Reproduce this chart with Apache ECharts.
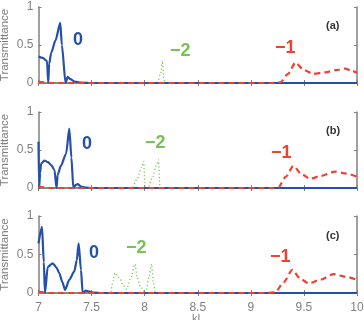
<!DOCTYPE html>
<html lang="en">
<head>
    <meta charset="UTF-8">
    <title>Transmittance</title>
    <style>html,body{margin:0;padding:0;background:#fff}</style>
</head>
<body>
<div id="chart-box" style="height:320px;width:364px"></div>
<script src="https://cdn.jsdelivr.net/npm/echarts@6/dist/echarts.min.js"></script>
<script>
// x axis ticks
var xTicks = [7, 7.5, 8, 8.5, 9, 9.5, 10];

// panel (a)
var kA0 = [7.0, 7.04, 7.08, 7.092, 7.10, 7.12, 7.16, 7.205, 7.22, 7.255, 7.275, 7.30, 7.34, 7.40, 7.5, 10];
var tA0 = [0.35, 0.33, 0.29, 0.0, 0.25, 0.40, 0.56, 0.79, 0.50, 0.0, 0.08, 0.05, 0.02, 0.005, 0, 0];
var kA1 = [7.0, 7.04, 7.1, 9.2, 9.28, 9.35, 9.42, 9.5, 9.59, 9.7, 9.8, 9.89, 9.95, 10];
var tA1 = [0.02, 0.01, 0, 0, 0.01, 0.12, 0.27, 0.17, 0.12, 0.14, 0.17, 0.19, 0.16, 0.135];
var kA2 = [7, 8.12, 8.15, 8.168, 8.18, 8.19, 10];
var tA2 = [0, 0, 0.12, 0.29, 0.05, 0, 0];

// panel (b)
var kB0 = [7.0, 7.006, 7.015, 7.025, 7.055, 7.09, 7.12, 7.15, 7.17, 7.18, 7.21, 7.26, 7.29, 7.31, 7.328, 7.35, 7.37, 7.40, 7.45, 7.5, 10];
var tB0 = [0.61, 0.0, 0.2, 0.32, 0.36, 0.34, 0.30, 0.24, 0.0, 0.17, 0.29, 0.45, 0.78, 0.4, 0.0, 0.04, 0.05, 0.02, 0.005, 0, 0];
var kB1 = [7.0, 7.05, 7.1, 9.2, 9.26, 9.33, 9.40, 9.48, 9.56, 9.66, 9.795, 9.9, 10];
var tB1 = [0.02, 0.01, 0, 0, 0.01, 0.15, 0.29, 0.18, 0.12, 0.16, 0.215, 0.19, 0.15];
var kB2 = [7, 7.88, 7.93, 7.97, 7.99, 8.005, 8.03, 8.07, 8.11, 8.13, 8.145, 10];
var tB2 = [0, 0, 0.12, 0.27, 0.35, 0.0, 0.0, 0.12, 0.30, 0.37, 0, 0];

// panel (c)
var kC0 = [7.0, 7.033, 7.05, 7.061, 7.087, 7.134, 7.17, 7.196, 7.225, 7.25, 7.29, 7.337, 7.36, 7.378, 7.40, 7.416, 7.447, 7.47, 7.52, 7.6, 10];
var tC0 = [0.645, 0.86, 0.4, 0.0, 0.34, 0.385, 0.33, 0.255, 0.14, 0.04, 0.17, 0.28, 0.42, 0.645, 0.3, 0.0, 0.03, 0.02, 0.005, 0, 0];
var kC1 = [7.0, 7.05, 7.1, 9.15, 9.23, 9.31, 9.39, 9.47, 9.545, 9.65, 9.78, 9.9, 10];
var tC1 = [0.02, 0.01, 0, 0, 0.01, 0.14, 0.30, 0.18, 0.125, 0.17, 0.245, 0.21, 0.17];
var kC2 = [7, 7.68, 7.70, 7.72, 7.76, 7.80, 7.83, 7.87, 7.909, 7.93, 7.96, 8.01, 8.04, 8.066, 8.08, 8.10, 10];
var tC2 = [0, 0, 0.15, 0.26, 0.2, 0.1, 0.05, 0.2, 0.375, 0.2, 0.08, 0.0, 0.2, 0.375, 0.15, 0, 0];

var panels = [
    {k: [kA0, kA1, kA2], t: [tA0, tA1, tA2], tag: '(a)'},
    {k: [kB0, kB1, kB2], t: [tB0, tB1, tB2], tag: '(b)'},
    {k: [kC0, kC1, kC2], t: [tC0, tC1, tC2], tag: '(c)'}
];

var BLUE = '#2550aa', RED = '#ee4130', GREEN = '#77c352', AXIS = '#808080', TXT = '#808080';
var tops = [7, 112, 216];
var heights = [76, 76, 77];

function zip(a, b) {
    return a.map(function (x, i) { return [x, b[i]]; });
}

var grid = [], xAxis = [], yAxis = [], series = [];
panels.forEach(function (p, i) {
    grid.push({left: 38.5, right: 7, top: tops[i], height: heights[i],
        containLabel: false, outerBoundsMode: 'none'});
    var last = i === panels.length - 1;
    xAxis.push({
        type: 'value', gridIndex: i, min: 7, max: 10, interval: 0.5,
        axisLine: {show: true, onZero: false, lineStyle: {color: AXIS, width: 1.5}},
        axisTick: {show: true, inside: true, length: 3, lineStyle: {color: AXIS}},
        splitLine: {show: false},
        axisLabel: {show: last, color: TXT, fontSize: 12, fontFamily: 'Liberation Sans', margin: 9},
        name: last ? 'kL' : '', nameLocation: 'middle', nameGap: 20, nameMoveOverlap: false,
        nameTextStyle: {color: TXT, fontSize: 11, fontFamily: 'Liberation Sans'}
    });
    xAxis.push({
        type: 'value', gridIndex: i, min: 7, max: 10, interval: 0.5, position: 'top',
        axisLine: {show: true, lineStyle: {color: AXIS, width: 1.5}},
        axisTick: {show: true, inside: true, length: 3, lineStyle: {color: AXIS}},
        splitLine: {show: false}, axisLabel: {show: false}
    });
    yAxis.push({
        type: 'value', gridIndex: i, min: 0, max: 1, interval: 0.5,
        axisLine: {show: true, onZero: false, lineStyle: {color: AXIS, width: 1.5}},
        axisTick: {show: true, inside: true, length: 3, lineStyle: {color: AXIS}},
        splitLine: {show: false},
        axisLabel: {color: TXT, fontSize: 12, fontFamily: 'Liberation Sans', margin: 5},
        name: 'Transmittance', nameLocation: 'middle', nameGap: 28, nameRotate: 90,
        nameMoveOverlap: false,
        nameTextStyle: {color: TXT, fontSize: 11.5, fontFamily: 'Liberation Sans'}
    });
    yAxis.push({
        type: 'value', gridIndex: i, min: 0, max: 1, interval: 0.5, position: 'right',
        axisLine: {show: true, lineStyle: {color: AXIS, width: 1.5}},
        axisTick: {show: true, inside: true, length: 3, lineStyle: {color: AXIS}},
        splitLine: {show: false}, axisLabel: {show: false}
    });
    var styles = [
        {color: BLUE, type: 'solid', width: 2.2, z: 3},
        {color: RED, type: [6, 4], width: 2.2, z: 4},
        {color: GREEN, type: [1.2, 2.3], width: 1.2, z: 2}
    ];
    [2, 0, 1].forEach(function (j) {
        var s = styles[j];
        series.push({
            type: 'line', xAxisIndex: 2 * i, yAxisIndex: 2 * i,
            data: zip(p.k[j], p.t[j]), showSymbol: false, symbol: 'none',
            smooth: 0.25, smoothMonotone: 'x', z: s.z, silent: true,
            lineStyle: {color: s.color, type: s.type, width: s.width}
        });
    });
});

function label(txt, x, y, color, size) {
    return {type: 'text', left: x, top: y, z: 10,
        style: {text: txt, fill: color, font: 'bold ' + size + 'px "Liberation Sans"'}};
}

var graphic = [
    label('0', 73, 31, BLUE, 18), label('\u22122', 170, 42, GREEN, 18), label('\u22121', 275, 39, RED, 18),
    label('0', 82, 135, BLUE, 18), label('\u22122', 145, 134, GREEN, 18), label('\u22121', 271, 144, RED, 18),
    label('0', 89, 244, BLUE, 18), label('\u22122', 126, 239, GREEN, 18), label('\u22121', 270, 248, RED, 18),
    label('(a)', 326, 20, '#333', 11), label('(b)', 326, 125, '#333', 11), label('(c)', 326, 230, '#333', 11)
];

var option = {
    animation: false,
    grid: grid,
    xAxis: xAxis,
    yAxis: yAxis,
    series: series,
    graphic: graphic
};

var chart = echarts.init(document.getElementById('chart-box'));
chart.setOption(option);
</script>
</body>
</html>
